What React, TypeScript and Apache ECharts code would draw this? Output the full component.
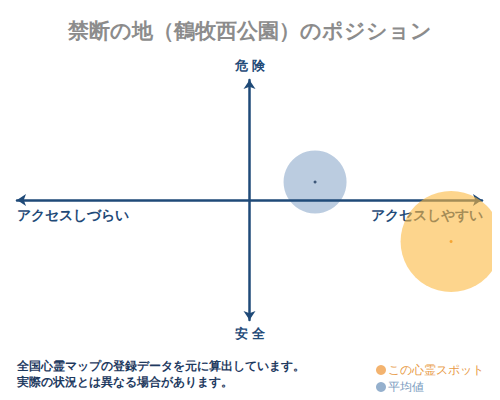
import React, { useEffect, useRef } from 'react';
import * as echarts from 'echarts';

// chart data
const seriesNames = ['この心霊スポット', '平均値'];
const spotPoint = [86.7, -34.6];
const averagePoint = [28.2, 15];
const bubbleSizes = [101, 63];
const axisLabels = ['危 険', '安 全', 'アクセスしづらい', 'アクセスしやすい'];
const noteLines = [
  '全国心霊マップの登録データを元に算出しています。',
  '実際の状況とは異なる場合があります。'
];

const NAVY = '#1f4a78';
const SERIF = 'serif';

const App: React.FC = () => {
  const chartRef = useRef<HTMLDivElement>(null);

  useEffect(() => {
    if (!chartRef.current) return;
    const chart = echarts.init(chartRef.current, null, { renderer: 'svg' });

    const option: echarts.EChartsOption = {
      animation: false,
      backgroundColor: '#fff',
      title: {
        text: '禁断の地（鶴牧西公園）のポジション',
        left: 'center',
        top: 15,
        textStyle: { fontSize: 21, fontFamily: SERIF, fontWeight: 'bold', color: '#8c8c8c' }
      },
      grid: { left: 17, right: 18, top: 80, bottom: 80 },
      xAxis: {
        type: 'value',
        min: -100,
        max: 100,
        axisLine: {
          show: true,
          symbol: ['arrow', 'arrow'],
          symbolSize: [9, 9],
          lineStyle: { color: NAVY, width: 2.5 }
        },
        axisTick: { show: false },
        axisLabel: { show: false },
        splitLine: { show: false }
      },
      yAxis: {
        type: 'value',
        min: -100,
        max: 100,
        axisLine: {
          show: true,
          symbol: ['arrow', 'arrow'],
          symbolSize: [9, 9],
          lineStyle: { color: NAVY, width: 2.5 }
        },
        axisTick: { show: false },
        axisLabel: { show: false },
        splitLine: { show: false }
      },
      legend: {
        orient: 'vertical',
        left: 371,
        top: 359,
        itemWidth: 10,
        itemHeight: 10,
        itemGap: 5,
        icon: 'circle',
        data: [
          { name: seriesNames[0], itemStyle: { color: '#f0a04b' }, textStyle: { color: '#e89a45' } },
          { name: seriesNames[1], itemStyle: { color: '#7a9cc0' }, textStyle: { color: '#7b9cc0' } }
        ],
        textStyle: { fontSize: 11.5, fontFamily: SERIF, padding: [0, 0, 0, -3] }
      },
      graphic: [
        {
          type: 'text',
          left: 'center',
          top: 59,
          style: { text: axisLabels[0], fontSize: 13, fontWeight: 'bold', fontFamily: SERIF, fill: NAVY }
        },
        {
          type: 'text',
          left: 'center',
          top: 327,
          style: { text: axisLabels[1], fontSize: 13, fontWeight: 'bold', fontFamily: SERIF, fill: NAVY }
        },
        {
          type: 'text',
          left: 17,
          top: 208,
          style: { text: axisLabels[2], fontSize: 14, fontWeight: 'bold', fontFamily: SERIF, fill: NAVY }
        },
        {
          type: 'text',
          right: 17,
          top: 208,
          style: { text: axisLabels[3], fontSize: 14, fontWeight: 'bold', fontFamily: SERIF, fill: NAVY }
        },
        {
          type: 'text',
          left: 17,
          top: 360,
          style: { text: noteLines[0], fontSize: 11.5, fontWeight: 'bold', fontFamily: SERIF, fill: '#1e3a5f' }
        },
        {
          type: 'text',
          left: 17,
          top: 376,
          style: { text: noteLines[1], fontSize: 11.5, fontWeight: 'bold', fontFamily: SERIF, fill: '#1e3a5f' }
        }
      ],
      series: [
        {
          name: seriesNames[0],
          type: 'scatter',
          z: 5,
          clip: false,
          symbolSize: bubbleSizes[0],
          itemStyle: { color: 'rgba(252,185,65,0.75)' },
          data: [spotPoint]
        },
        {
          name: seriesNames[1],
          type: 'scatter',
          z: -1,
          clip: false,
          symbolSize: bubbleSizes[1],
          itemStyle: { color: 'rgba(100,140,185,0.55)' },
          data: [averagePoint]
        },
        {
          name: 'centers',
          type: 'scatter',
          z: 6,
          silent: true,
          symbolSize: 3,
          data: [
            { value: spotPoint, itemStyle: { color: '#f39a1e' } },
            { value: averagePoint, itemStyle: { color: '#1e3a5f' } }
          ]
        }
      ]
    };

    chart.setOption(option);

    return () => {
      chart.dispose();
    };
  }, []);

  return <div ref={chartRef} style={{ width: 500, height: 400, margin: -8 }} />;
};

export default App;
